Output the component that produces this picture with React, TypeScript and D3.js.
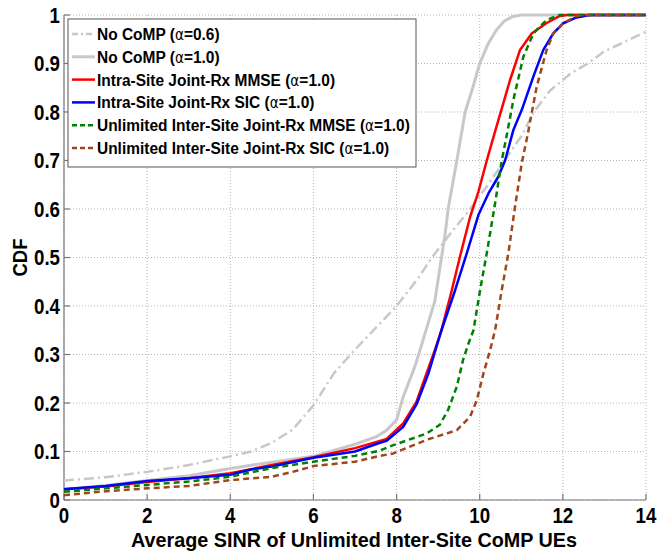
import React from "react";
import * as d3 from "d3";

const xTicks = [0, 2, 4, 6, 8, 10, 12, 14];
const yTicks = [0, 0.1, 0.2, 0.3, 0.4, 0.5, 0.6, 0.7, 0.8, 0.9, 1];

const noComp06X = [0, 1, 2, 3, 4, 4.5, 5, 5.5, 6, 6.5, 7, 7.5, 8, 8.5, 8.85, 9.3, 9.77, 10.2, 10.6, 11.0, 11.3, 11.7, 12.2, 12.6, 13, 13.5, 14];
const noComp06Y = [0.04, 0.047, 0.058, 0.072, 0.09, 0.1, 0.118, 0.145, 0.195, 0.262, 0.31, 0.355, 0.4, 0.455, 0.5, 0.55, 0.6, 0.65, 0.7, 0.75, 0.8, 0.845, 0.88, 0.9, 0.925, 0.945, 0.966];

const noComp10X = [0, 1, 2, 3, 4, 5, 6, 7, 7.5, 7.76, 8.0, 8.16, 8.44, 8.62, 8.92, 9.17, 9.24, 9.45, 9.65, 9.84, 10.0, 10.2, 10.4, 10.6, 10.8, 11.0, 14];
const noComp10Y = [0.022, 0.03, 0.04, 0.05, 0.065, 0.078, 0.09, 0.115, 0.13, 0.144, 0.165, 0.213, 0.275, 0.325, 0.41, 0.55, 0.6, 0.7, 0.8, 0.852, 0.9, 0.94, 0.969, 0.988, 0.997, 1.0, 1.0];

const intraMmseX = [0, 1, 2, 3, 4, 5, 6, 7, 7.6, 7.76, 8.16, 8.48, 8.72, 8.92, 9.08, 9.33, 9.52, 9.77, 9.97, 10.17, 10.37, 10.73, 10.97, 11.25, 11.6, 11.93, 12.1, 14];
const intraMmseY = [0.022, 0.028, 0.037, 0.045, 0.055, 0.072, 0.088, 0.107, 0.122, 0.126, 0.158, 0.203, 0.261, 0.309, 0.35, 0.433, 0.5, 0.584, 0.636, 0.7, 0.76, 0.866, 0.928, 0.962, 0.983, 0.998, 1.0, 1.0];

const intraSicX = [0, 1, 2, 3, 4, 4.5, 5, 6, 7, 7.6, 7.76, 8.16, 8.48, 8.77, 9.08, 9.41, 9.69, 9.97, 10.21, 10.45, 10.61, 10.81, 11.01, 11.29, 11.53, 11.77, 12.01, 12.33, 12.65, 14];
const intraSicY = [0.022, 0.029, 0.039, 0.045, 0.052, 0.063, 0.069, 0.087, 0.1, 0.118, 0.122, 0.151, 0.197, 0.262, 0.35, 0.433, 0.509, 0.588, 0.632, 0.667, 0.7, 0.763, 0.804, 0.873, 0.928, 0.962, 0.983, 0.995, 1.0, 1.0];

const interMmseX = [0, 1, 2, 3, 4, 5, 6, 7, 7.6, 7.92, 8.72, 9.04, 9.24, 9.45, 9.6, 9.73, 9.85, 10.01, 10.17, 10.37, 10.53, 10.65, 10.81, 11.05, 11.29, 11.61, 11.93, 14];
const interMmseY = [0.017, 0.024, 0.031, 0.038, 0.048, 0.066, 0.079, 0.091, 0.102, 0.113, 0.137, 0.155, 0.186, 0.234, 0.289, 0.323, 0.35, 0.433, 0.509, 0.612, 0.7, 0.752, 0.825, 0.914, 0.962, 0.99, 1.0, 1.0];

const interSicX = [0, 1, 2, 3, 4, 5, 5.5, 6, 7, 7.6, 7.92, 8.72, 9.45, 9.77, 9.93, 10.09, 10.25, 10.37, 10.53, 10.69, 10.85, 11.01, 11.15, 11.37, 11.61, 11.77, 12.01, 12.33, 12.6, 14];
const interSicY = [0.01, 0.018, 0.024, 0.029, 0.041, 0.048, 0.058, 0.07, 0.079, 0.091, 0.096, 0.124, 0.144, 0.172, 0.206, 0.261, 0.309, 0.35, 0.433, 0.509, 0.605, 0.694, 0.752, 0.852, 0.928, 0.962, 0.983, 0.998, 1.0, 1.0];

const seriesNames = [
  "No CoMP (|=0.6)",
  "No CoMP (|=1.0)",
  "Intra-Site Joint-Rx MMSE (|=1.0)",
  "Intra-Site Joint-Rx SIC (|=1.0)",
  "Unlimited Inter-Site Joint-Rx MMSE (|=1.0)",
  "Unlimited Inter-Site Joint-Rx SIC (|=1.0)",
];

const FONT = "'Liberation Sans', Arial, sans-serif";

export default function App() {
  const W = 658, H = 555;
  const L = 64, R = 646, T = 15, B = 500;
  const x = d3.scaleLinear().domain([0, 14]).range([L, R]);
  const y = d3.scaleLinear().domain([0, 1]).range([B, T]);

  const series = [
    { xs: noComp06X, ys: noComp06Y, color: "#c8c8c8", w: 2.5, dash: "10,4,2,4" },
    { xs: noComp10X, ys: noComp10Y, color: "#c8c8c8", w: 3, dash: null },
    { xs: intraMmseX, ys: intraMmseY, color: "#ff0000", w: 2.5, dash: null },
    { xs: intraSicX, ys: intraSicY, color: "#0000ff", w: 2.5, dash: null },
    { xs: interMmseX, ys: interMmseY, color: "#008000", w: 2.5, dash: "6,4" },
    { xs: interSicX, ys: interSicY, color: "#a0461a", w: 2.5, dash: "6,4" },
  ];

  const line = d3.line<[number, number]>().x((d) => x(d[0])).y((d) => y(d[1]));

  const renderName = (name: string) => {
    const parts = name.split("|");
    return (
      <>
        {parts[0]}
        <tspan fontWeight="normal" fontFamily="'DejaVu Sans', sans-serif" fontSize={15}>α</tspan>
        {parts[1]}
      </>
    );
  };

  const legX = 68, legY = 19, legW = 348, legH = 148, rowH = 22.8;

  return (
    <svg width={W} height={H} style={{ position: "absolute", left: 0, top: 0, background: "#fff" }}>
      <rect x={0} y={0} width={W} height={H} fill="#fff" />
      {/* grid */}
      <g stroke="#b4b4b4" strokeWidth={1} strokeDasharray="1,2">
        {xTicks.map((t) => (
          <line key={"gx" + t} x1={x(t)} x2={x(t)} y1={T} y2={B} />
        ))}
        {yTicks.map((t) => (
          <line key={"gy" + t} x1={L} x2={R} y1={y(t)} y2={y(t)} />
        ))}
      </g>
      {/* axes */}
      <g stroke="#777" strokeWidth={1.2}>
        <line x1={L} x2={L} y1={T} y2={B} />
        <line x1={L} x2={R} y1={B} y2={B} />
        {xTicks.map((t) => (
          <line key={"tx" + t} x1={x(t)} x2={x(t)} y1={B} y2={B - 6} />
        ))}
        {yTicks.map((t) => (
          <line key={"ty" + t} x1={L} x2={L + 6} y1={y(t)} y2={y(t)} />
        ))}
      </g>
      {/* data */}
      <g fill="none" strokeLinejoin="round">
        {series.map((s, i) => (
          <path
            key={i}
            d={line(s.xs.map((v, j) => [v, s.ys[j]] as [number, number])) || ""}
            stroke={s.color}
            strokeWidth={s.w}
            strokeDasharray={s.dash || undefined}
          />
        ))}
      </g>
      {/* tick labels */}
      <g fontFamily={FONT} fontWeight="bold" fontSize={22} fill="#000">
        {xTicks.map((t) => (
          <g key={"lx" + t} transform={`translate(${x(t)},523) scale(0.85,1)`}>
            <text x={0} y={0} textAnchor="middle">{t}</text>
          </g>
        ))}
        {yTicks.map((t) => (
          <g key={"ly" + t} transform={`translate(60,${y(t) + 7.5}) scale(0.85,1)`}>
            <text x={0} y={0} textAnchor="end">{t === 0 ? "0" : t === 1 ? "1" : t.toFixed(1)}</text>
          </g>
        ))}
        <text x={131} y={547} fontSize={21} textLength={446} lengthAdjust="spacingAndGlyphs">Average SINR of Unlimited Inter-Site CoMP UEs</text>
        <g transform="translate(27,257.5) rotate(-90) scale(0.88,1)">
          <text x={0} y={0} textAnchor="middle" fontSize={21}>CDF</text>
        </g>
      </g>
      {/* legend */}
      <g>
        <rect x={legX} y={legY} width={legW} height={legH} fill="#fff" stroke="#555" strokeWidth={1} />
        {series.map((s, i) => {
          const cy = legY + 15 + i * rowH;
          return (
            <g key={"lg" + i}>
              <line x1={72} x2={95} y1={cy} y2={cy} stroke={s.color} strokeWidth={s.w}
                strokeDasharray={s.dash === "6,4" ? "5,3" : s.dash ? "6,3,2,3" : undefined} />
              <g transform={`translate(97,${cy + 6}) scale(0.91,1)`}>
                <text x={0} y={0} fontFamily={FONT} fontWeight="bold" fontSize={17} fill="#000">
                  {renderName(seriesNames[i])}
                </text>
              </g>
            </g>
          );
        })}
      </g>
    </svg>
  );
}
